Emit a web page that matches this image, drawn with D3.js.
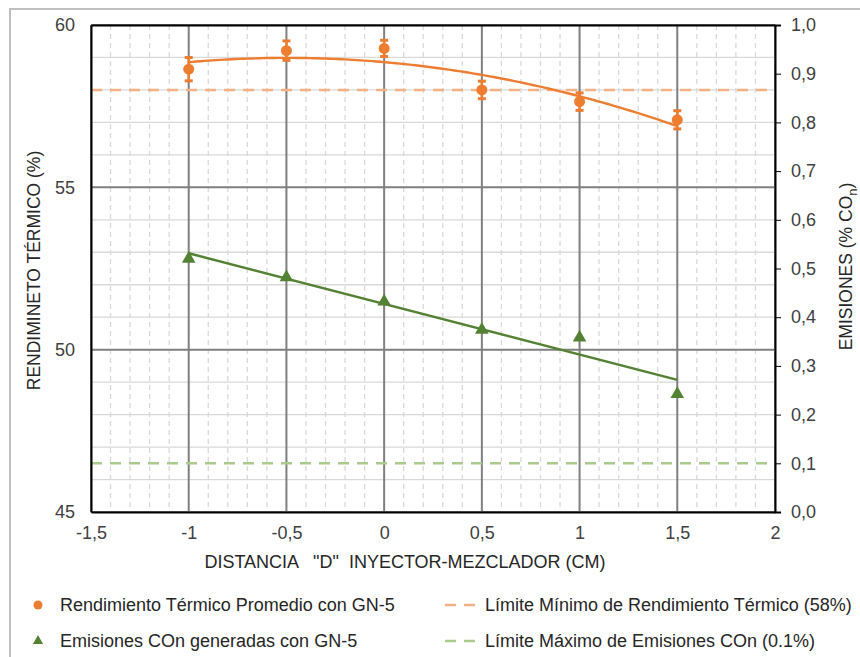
<!DOCTYPE html>
<html>
<head>
<meta charset="utf-8">
<script src="https://cdn.jsdelivr.net/npm/d3@7"></script>
<style>
  html, body { margin: 0; padding: 0; background: #fff; }
  svg { display: block; font-family: "Liberation Sans", Arial, sans-serif; }
</style>
</head>
<body>
<svg id="chart" width="860" height="657"></svg>
<script>
// Distance "D" between injector and mixer (cm)
const distances = [-1, -0.5, 0, 0.5, 1, 1.5];
// Average thermal efficiency (%) and its error (±)
const rendimiento = [58.64, 59.21, 59.28, 58.0, 57.64, 57.08];
const rendimientoErr = [0.36, 0.30, 0.25, 0.27, 0.27, 0.28];
// CO emissions (% COn)
const emisiones = [0.52, 0.482, 0.432, 0.374, 0.358, 0.242];
// Limits
const limiteRendimiento = 58;
const limiteEmisiones = 0.1;

const xTicks = [-1.5, -1, -0.5, 0, 0.5, 1, 1.5, 2];
const yLeftTicks = [45, 50, 55, 60];
const yRightTicks = [0, 0.1, 0.2, 0.3, 0.4, 0.5, 0.6, 0.7, 0.8, 0.9, 1.0];

const ORANGE = "#ED7D31";
const ORANGE_LIGHT = "#F4B183";
const GREEN = "#548235";
const GREEN_LIGHT = "#A9CB8E";
const TEXT = "#404040";

const svg = d3.select("#chart");
const plot = { left: 91, right: 775, top: 25, bottom: 512 };

const x = d3.scaleLinear().domain([-1.5, 2]).range([plot.left, plot.right]);
const yL = d3.scaleLinear().domain([45, 60]).range([plot.bottom, plot.top]);
const yR = d3.scaleLinear().domain([0, 1]).range([plot.bottom, plot.top]);

const comma = s => s.replace(".", ",").replace("\u2212", "-");
const fmt = d => comma(String(d));

// outer frame
svg.append("rect").attr("x", 10).attr("y", 9).attr("width", 870).attr("height", 680)
  .attr("fill", "none").attr("stroke", "#bfbfbf").attr("stroke-width", 2);

const grid = svg.append("g");
// minor vertical grid every 0.1
d3.range(-1.5, 2.0001, 0.1).forEach(v => {
  grid.append("line").attr("x1", x(v)).attr("x2", x(v))
    .attr("y1", plot.top).attr("y2", plot.bottom)
    .attr("stroke", "#d9d9d9").attr("stroke-width", 1.3).attr("stroke-dasharray", "5,4");
});
// minor horizontal grid every 1 %
d3.range(45, 60.001, 1).forEach(v => {
  grid.append("line").attr("x1", plot.left).attr("x2", plot.right)
    .attr("y1", yL(v)).attr("y2", yL(v))
    .attr("stroke", "#d9d9d9").attr("stroke-width", 1.3);
});
// major grid
xTicks.forEach(v => {
  grid.append("line").attr("x1", x(v)).attr("x2", x(v))
    .attr("y1", plot.top).attr("y2", plot.bottom)
    .attr("stroke", "#808080").attr("stroke-width", 2);
});
yLeftTicks.forEach(v => {
  grid.append("line").attr("x1", plot.left).attr("x2", plot.right)
    .attr("y1", yL(v)).attr("y2", yL(v))
    .attr("stroke", "#808080").attr("stroke-width", 2);
});

// limit lines
svg.append("line").attr("x1", plot.left).attr("x2", plot.right - 8)
  .attr("y1", yL(limiteRendimiento)).attr("y2", yL(limiteRendimiento))
  .attr("stroke", ORANGE_LIGHT).attr("stroke-width", 2.5).attr("stroke-dasharray", "11,8");
svg.append("line").attr("x1", plot.left).attr("x2", plot.right - 8)
  .attr("y1", yR(limiteEmisiones)).attr("y2", yR(limiteEmisiones))
  .attr("stroke", GREEN_LIGHT).attr("stroke-width", 2.5).attr("stroke-dasharray", "11,8");

// axes frame
const axL = d3.axisLeft(yL).tickValues(yLeftTicks).tickSize(0).tickPadding(16).tickFormat(d3.format("d"));
const axR = d3.axisRight(yR).tickValues(yRightTicks).tickSize(6).tickPadding(10).tickFormat(d => comma(d3.format(".1f")(d)));
const axB = d3.axisBottom(x).tickValues(xTicks).tickSize(0).tickPadding(14).tickFormat(fmt);
const axT = d3.axisTop(x).tickValues([]).tickSize(0);

function styleAxis(g) {
  g.select(".domain").attr("stroke", "#000").attr("stroke-width", 2);
  g.selectAll(".tick line").attr("stroke", "#000").attr("stroke-width", 1);
  g.selectAll(".tick text").attr("fill", TEXT).attr("font-size", 18)
    .attr("font-family", "Liberation Sans, Arial, sans-serif");
}
svg.append("g").attr("transform", `translate(${plot.left},0)`).call(axL).call(styleAxis);
svg.append("g").attr("transform", `translate(${plot.right},0)`).call(axR).call(styleAxis);
svg.append("g").attr("transform", `translate(0,${plot.bottom})`).call(axB).call(styleAxis);
svg.append("g").attr("transform", `translate(0,${plot.top})`).call(axT).call(styleAxis);

// least-squares polynomial trendline
function polyFit(xs, ys, deg) {
  const n = deg + 1;
  const A = Array.from({ length: n }, () => new Array(n + 1).fill(0));
  for (let r = 0; r < n; r++) {
    for (let c = 0; c < n; c++) A[r][c] = d3.sum(xs, xv => Math.pow(xv, r + c));
    A[r][n] = d3.sum(xs, (xv, i) => ys[i] * Math.pow(xv, r));
  }
  for (let i = 0; i < n; i++) {
    let p = i;
    for (let k = i + 1; k < n; k++) if (Math.abs(A[k][i]) > Math.abs(A[p][i])) p = k;
    [A[i], A[p]] = [A[p], A[i]];
    for (let k = i + 1; k < n; k++) {
      const f = A[k][i] / A[i][i];
      for (let j = i; j <= n; j++) A[k][j] -= f * A[i][j];
    }
  }
  const coef = new Array(n).fill(0);
  for (let i = n - 1; i >= 0; i--) {
    let s = A[i][n];
    for (let j = i + 1; j < n; j++) s -= A[i][j] * coef[j];
    coef[i] = s / A[i][i];
  }
  return xv => coef.reduce((acc, c, k) => acc + c * Math.pow(xv, k), 0);
}

const fR = polyFit(distances, rendimiento, 2);
const fE = polyFit(distances, emisiones, 1);
const xs = d3.range(distances[0], distances[distances.length - 1] + 0.0001, 0.02);

svg.append("path").datum(xs)
  .attr("d", d3.line().x(d => x(d)).y(d => yL(fR(d))))
  .attr("fill", "none").attr("stroke", ORANGE).attr("stroke-width", 2.4);
svg.append("path").datum([distances[0], distances[distances.length - 1]])
  .attr("d", d3.line().x(d => x(d)).y(d => yR(fE(d))))
  .attr("fill", "none").attr("stroke", GREEN).attr("stroke-width", 2.4);

// error bars + points
const pts = svg.append("g");
distances.forEach((d, i) => {
  const cx = x(d);
  const lo = yL(rendimiento[i] - rendimientoErr[i]);
  const hi = yL(rendimiento[i] + rendimientoErr[i]);
  pts.append("line").attr("x1", cx).attr("x2", cx).attr("y1", lo).attr("y2", hi)
    .attr("stroke", ORANGE).attr("stroke-width", 2.5);
  [lo, hi].forEach(yy => pts.append("line").attr("x1", cx - 4).attr("x2", cx + 4)
    .attr("y1", yy).attr("y2", yy).attr("stroke", ORANGE).attr("stroke-width", 3));
  pts.append("circle").attr("cx", cx).attr("cy", yL(rendimiento[i])).attr("r", 5.5).attr("fill", ORANGE);
});
const tri = d3.symbol().type(d3.symbolTriangle).size(80);
distances.forEach((d, i) => {
  pts.append("path").attr("d", tri)
    .attr("transform", `translate(${x(d)},${yR(emisiones[i])})`).attr("fill", GREEN);
});

// axis titles
svg.append("text").attr("transform", `translate(40,${(plot.top + plot.bottom) / 2 + 2}) rotate(-90)`)
  .attr("text-anchor", "middle").attr("font-size", 17.5).attr("fill", "#262626")
  .text("RENDIMINETO TÉRMICO (%)");
const rt = svg.append("text").attr("transform", `translate(852,${(plot.top + plot.bottom) / 2 - 2}) rotate(-90)`)
  .attr("text-anchor", "middle").attr("font-size", 17.5).attr("fill", "#262626");
rt.append("tspan").text("EMISIONES (% CO");
rt.append("tspan").attr("font-size", 13).attr("dy", 5).text("n");
rt.append("tspan").attr("dy", -5).text(")");
svg.append("text").attr("x", (plot.left + plot.right) / 2 - 28).attr("y", 568)
  .attr("text-anchor", "middle").attr("font-size", 18).attr("fill", "#262626")
  .style("white-space", "pre")
  .text("DISTANCIA   \"D\"  INYECTOR-MEZCLADOR (CM)");

// legend
const leg = svg.append("g").attr("font-size", 18).attr("fill", "#262626");
leg.append("circle").attr("cx", 38).attr("cy", 605).attr("r", 4.5).attr("fill", ORANGE);
leg.append("text").attr("x", 60).attr("y", 611).text("Rendimiento Térmico Promedio con GN-5");
leg.append("path").attr("d", d3.symbol().type(d3.symbolTriangle).size(45))
  .attr("transform", "translate(38,641)").attr("fill", GREEN);
leg.append("text").attr("x", 60).attr("y", 647).text("Emisiones COn generadas con GN-5");
leg.append("line").attr("x1", 445).attr("x2", 477).attr("y1", 605).attr("y2", 605)
  .attr("stroke", ORANGE_LIGHT).attr("stroke-width", 2.5).attr("stroke-dasharray", "11,8");
leg.append("text").attr("x", 485).attr("y", 611).text("Límite Mínimo de Rendimiento Térmico (58%)");
leg.append("line").attr("x1", 445).attr("x2", 477).attr("y1", 641).attr("y2", 641)
  .attr("stroke", GREEN_LIGHT).attr("stroke-width", 2.5).attr("stroke-dasharray", "11,8");
leg.append("text").attr("x", 485).attr("y", 647).text("Límite Máximo de Emisiones COn (0.1%)");
</script>
</body>
</html>
